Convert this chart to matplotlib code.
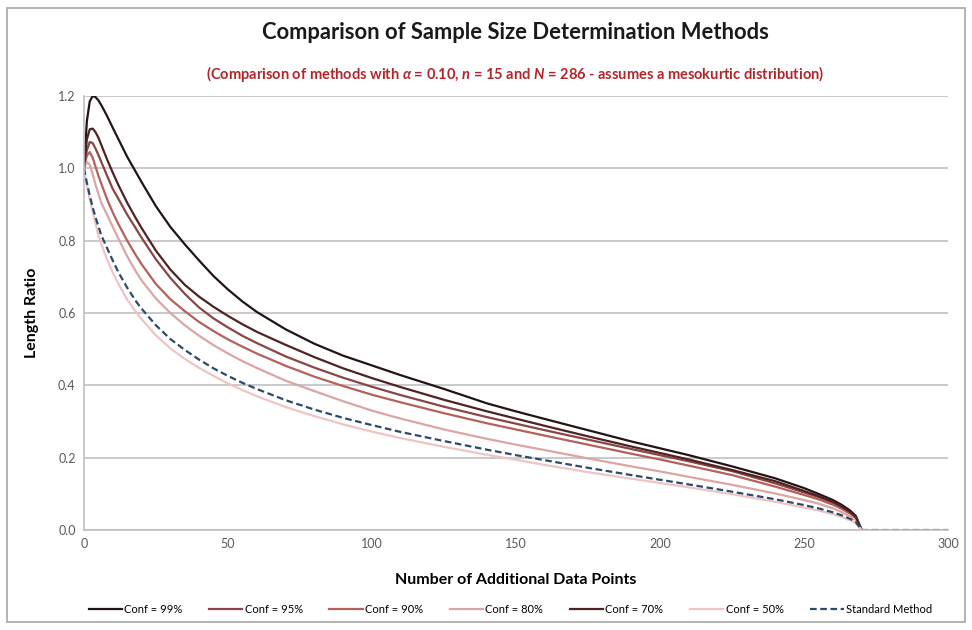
import matplotlib.pyplot as plt
from matplotlib.patches import Rectangle

plt.rcParams['font.family'] = ['Lato', 'DejaVu Sans']
plt.rcParams['mathtext.fontset'] = 'custom'
plt.rcParams['mathtext.it'] = 'Lato:italic:bold'
plt.rcParams['mathtext.rm'] = 'Lato:bold'

# data
x_pts = [0, 1, 2, 3, 4, 5, 6, 8, 10, 12, 15, 18, 20, 25, 30, 35, 40, 45, 50, 55, 60, 70, 80, 90,
         100, 110, 125, 140, 150, 160, 175, 190, 200, 210, 225, 240, 250, 255, 260, 263, 266, 268, 270]
conf99 = [1.0, 1.13, 1.185, 1.2, 1.197, 1.188, 1.175, 1.145, 1.112, 1.08, 1.032, 0.99, 0.962, 0.895, 0.838, 0.79, 0.745, 0.702, 0.665, 0.632, 0.603, 0.555, 0.515, 0.482,
          0.455, 0.428, 0.39, 0.35, 0.328, 0.307, 0.276, 0.245, 0.226, 0.207, 0.176, 0.143, 0.116, 0.1, 0.083, 0.07, 0.054, 0.039, 0.0]
conf70 = [1.0, 1.08, 1.108, 1.11, 1.1, 1.085, 1.065, 1.025, 0.988, 0.953, 0.905, 0.862, 0.835, 0.772, 0.72, 0.678, 0.645, 0.617, 0.592, 0.569, 0.548, 0.512, 0.478, 0.447,
          0.42, 0.395, 0.36, 0.328, 0.308, 0.288, 0.259, 0.231, 0.213, 0.195, 0.166, 0.135, 0.108, 0.094, 0.078, 0.065, 0.05, 0.036, 0.0]
conf95 = [1.0, 1.05, 1.073, 1.07, 1.055, 1.037, 1.018, 0.98, 0.943, 0.915, 0.872, 0.834, 0.808, 0.748, 0.697, 0.653, 0.615, 0.585, 0.56, 0.537, 0.517, 0.48, 0.449, 0.421,
          0.396, 0.373, 0.341, 0.312, 0.294, 0.276, 0.25, 0.224, 0.207, 0.19, 0.163, 0.129, 0.104, 0.091, 0.075, 0.063, 0.048, 0.035, 0.0]
conf90 = [1.0, 1.035, 1.045, 1.03, 1.005, 0.98, 0.958, 0.915, 0.878, 0.845, 0.8, 0.76, 0.735, 0.68, 0.638, 0.605, 0.575, 0.55, 0.527, 0.507, 0.488, 0.454, 0.424, 0.398,
          0.374, 0.353, 0.323, 0.295, 0.278, 0.261, 0.236, 0.211, 0.195, 0.178, 0.152, 0.12, 0.097, 0.085, 0.07, 0.059, 0.045, 0.032, 0.0]
conf80 = [1.0, 1.018, 1.01, 0.985, 0.955, 0.93, 0.905, 0.872, 0.838, 0.805, 0.757, 0.715, 0.69, 0.64, 0.6, 0.566, 0.537, 0.511, 0.488, 0.467, 0.448, 0.413, 0.384, 0.356,
          0.33, 0.308, 0.278, 0.252, 0.236, 0.221, 0.198, 0.176, 0.162, 0.147, 0.125, 0.101, 0.083, 0.073, 0.06, 0.05, 0.038, 0.027, 0.0]
conf50 = [1.0, 0.955, 0.915, 0.88, 0.848, 0.815, 0.792, 0.748, 0.712, 0.68, 0.637, 0.603, 0.583, 0.538, 0.502, 0.473, 0.448, 0.426, 0.405, 0.387, 0.37, 0.34, 0.315, 0.292,
          0.272, 0.254, 0.23, 0.208, 0.194, 0.18, 0.16, 0.142, 0.13, 0.118, 0.099, 0.078, 0.062, 0.054, 0.044, 0.036, 0.027, 0.019, 0.0]

x_std = x_pts + [280, 290, 300]
standard = [1.0, 0.96, 0.925, 0.893, 0.865, 0.84, 0.815, 0.78, 0.745, 0.712, 0.67, 0.633, 0.612, 0.566, 0.528, 0.498, 0.471, 0.447, 0.426, 0.407, 0.39, 0.359, 0.333, 0.31,
            0.29, 0.271, 0.246, 0.222, 0.207, 0.193, 0.172, 0.152, 0.139, 0.126, 0.106, 0.085, 0.069, 0.06, 0.049, 0.041, 0.031, 0.022, 0.0, 0.0, 0.0, 0.0]

labels = ['Conf = 99%', 'Conf = 95%', 'Conf = 90%', 'Conf = 80%', 'Conf = 70%', 'Conf = 50%']
series = [conf99, conf95, conf90, conf80, conf70, conf50]
colors = ['#231414', '#8c4444', '#b5605a', '#dba5a5', '#4d2323', '#eec4c4']

fig = plt.figure(figsize=(9.72, 6.3), dpi=100)
fig.patches.append(Rectangle((0.007, 0.012), 0.986, 0.976, transform=fig.transFigure,
                             fill=False, edgecolor='#a6a6a6', linewidth=1.2))
ax = fig.add_axes([0.0864, 0.1587, 0.8889, 0.6889])

for y, lab, c in zip(series, labels, colors):
    ax.plot(x_pts, y, color=c, lw=1.6, label=lab)
ax.plot(x_std, standard, color='#2c4a6b', lw=1.6, ls=(0, (3, 1.6)), label='Standard Method')

ax.set_xlim(0, 300)
ax.set_ylim(0, 1.2)
ax.set_xticks(range(0, 301, 50))
ax.set_yticks([0, 0.2, 0.4, 0.6, 0.8, 1.0, 1.2])
ax.set_yticklabels(['0.0', '0.2', '0.4', '0.6', '0.8', '1.0', '1.2'])
ax.tick_params(length=0, labelsize=9, labelcolor='#595959', pad=6)
ax.grid(axis='y', color='#c0c0c0', lw=1.2)
ax.set_axisbelow(True)
for s in ['top', 'right']:
    ax.spines[s].set_visible(False)
for s in ['left', 'bottom']:
    ax.spines[s].set_color('#bfbfbf')
    ax.spines[s].set_linewidth(1.2)

ax.set_xlabel('Number of Additional Data Points', fontsize=11.5, fontweight='bold', labelpad=16)
ax.set_ylabel('Length Ratio', fontsize=11.5, fontweight='bold', labelpad=14)

fig.text(0.53, 0.949, 'Comparison of Sample Size Determination Methods',
         ha='center', va='center', fontsize=15.8, fontweight='bold', color='#1a1a1a')
fig.text(0.53, 0.883,
         r'(Comparison of methods with $\alpha$ = 0.10, $n$ = 15 and $N$ = 286 - assumes a mesokurtic distribution)',
         ha='center', va='center', fontsize=10.5, fontweight='bold', color='#b2262b')

fig.legend(loc='center', bbox_to_anchor=(0.525, 0.032), ncol=7, frameon=False,
           fontsize=8, handlelength=3, columnspacing=2.4, handletextpad=0.2)

plt.savefig('out.png', dpi=100)
